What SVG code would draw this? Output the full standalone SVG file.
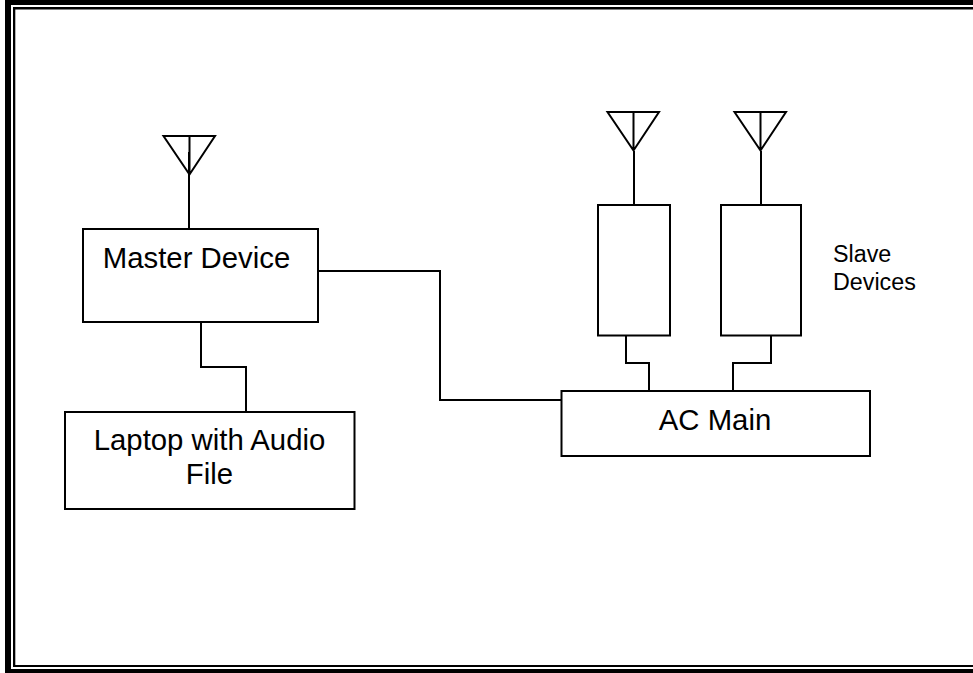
<svg xmlns="http://www.w3.org/2000/svg" width="973" height="673" viewBox="0 0 973 673">
<style>
.b{fill:#fff;stroke:#000;stroke-width:2}
.c{fill:none;stroke:#000;stroke-width:2}
text{font-family:"Liberation Sans",Arial,sans-serif;fill:#000;text-anchor:middle}
.l{font-size:29.33px}
.s{font-size:23.3px;text-anchor:start}
</style>
<defs>
<g id="ant"><path class="c" d="M-25.500 0H26L0.500 38.500ZM0.500 0V38.500"/></g>
</defs>
<rect width="973" height="673" fill="#fff"/>
<g id="frame">
<path d="M5 0H973V5H11V669H973V673H5Z" fill="#000"/>
<path d="M13 7H973V9.500H15.300V665H973V667H13Z" fill="#000"/>
</g>
<g id="connectors">
<path class="c" d="M189 152V229"/>
<path class="c" d="M634 151V205"/>
<path class="c" d="M761 151V205"/>
<path class="c" d="M201 322V367H246V412"/>
<path class="c" d="M318 271H440V400H562"/>
<path class="c" d="M626 335V363H649V391"/>
<path class="c" d="M771 335V363H733V391"/>
</g>
<g id="antenna-master"><use href="#ant" x="189" y="136"/></g>
<g id="antenna-slave1"><use href="#ant" x="633" y="112"/></g>
<g id="antenna-slave2"><use href="#ant" x="760" y="112"/></g>
<g id="master"><rect class="b" x="83" y="229" width="235" height="93"/><text class="l" x="196.500" y="268">Master Device</text></g>
<g id="laptop"><rect class="b" x="65" y="412" width="289.500" height="97"/><text class="l" x="209.500" y="450">Laptop with Audio</text><text class="l" x="209.500" y="484">File</text></g>
<g id="slave1"><rect class="b" x="598" y="205" width="72" height="130.500"/></g>
<g id="slave2"><rect class="b" x="721" y="205" width="80" height="130.500"/></g>
<g id="acmain"><rect class="b" x="561.500" y="391" width="308.500" height="65"/><text class="l" x="715" y="429.500">AC Main</text></g>
<g id="slave-label"><text class="s" x="833" y="262">Slave</text><text class="s" x="833" y="290">Devices</text></g>
</svg>
